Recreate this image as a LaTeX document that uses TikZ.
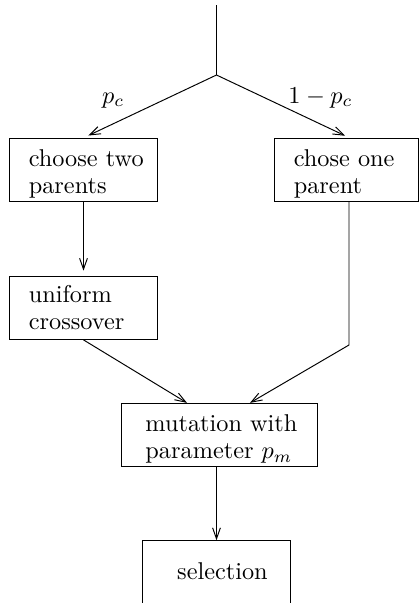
\documentclass[tikz,border=0pt]{standalone}
\usetikzlibrary{arrows.meta,calc}
\begin{document}
\begin{tikzpicture}[x=0.4115pt,y=-0.4115pt,
  line width=0.4pt,
  box/.style={draw, rectangle, inner sep=0pt},
  txt/.style={inner sep=0pt, anchor=north west, align=left, font=\fontsize{10}{11.1}\selectfont},
  lbl/.style={inner sep=0pt, anchor=base west},
  arr/.style={-{Straight Barb[length=4.5pt,width=3.2pt]}}]
\useasboundingbox (0,0) rectangle (419,603);
% boxes
\node[box, minimum width=61.07pt, minimum height=26.09pt] (b1) at (83.5,170) {};
\node[box, minimum width=59.34pt, minimum height=26.0pt] (b2) at (346.4,170.1) {};
\node[box, minimum width=61.07pt, minimum height=26.09pt] (b3) at (83.5,307.7) {};
\node[box, minimum width=80.78pt, minimum height=25.8pt] (m) at (219.2,434.7) {};
\node[box, minimum width=61.07pt, minimum height=28.8pt] (sel) at (216.5,575.7) {};
% texts
\node[txt] (t1) at (28.3,149.1) {choose two\\parents};
\node[txt] (t2) at (293.3,149.1) {chose one\\parent};
\node[txt] (t3) at (28.3,284.8) {uniform\\crossover};
\node[txt] (t4) at (145,414.1) {mutation with\\parameter $p_m$};
\node[txt] (t5) at (176.7,562.4) {selection};
% labels
\node[lbl] (lpc) at (101.7,103) {$p_c$};
\node[lbl] (lqc) at (288,103) {$1-p_c$};
% connectors
\coordinate (top) at (216.5,5);
\coordinate (fork) at (216.5,75);
\coordinate (bend) at (349,345);
\draw (top) -- (fork);
\draw[arr, shorten >=2.2pt] (fork) -- (b1.north);
\draw[arr, shorten >=2.2pt] (fork) -- ($(b2.north)+(3.6,0)$);
\draw[arr, shorten >=2pt] (b1.south) -- (b3.north);
\draw[arr] (b3.south) -- ($(m.north)+(-32.2,0)$);
\draw[arr] ($(b2.south)+(2.6,0)$) -- (bend) -- ($(m.north)+(30.8,0)$);
\draw[arr] ($(m.south)+(-2.7,0)$) -- (sel.north);
\end{tikzpicture}
\end{document}
